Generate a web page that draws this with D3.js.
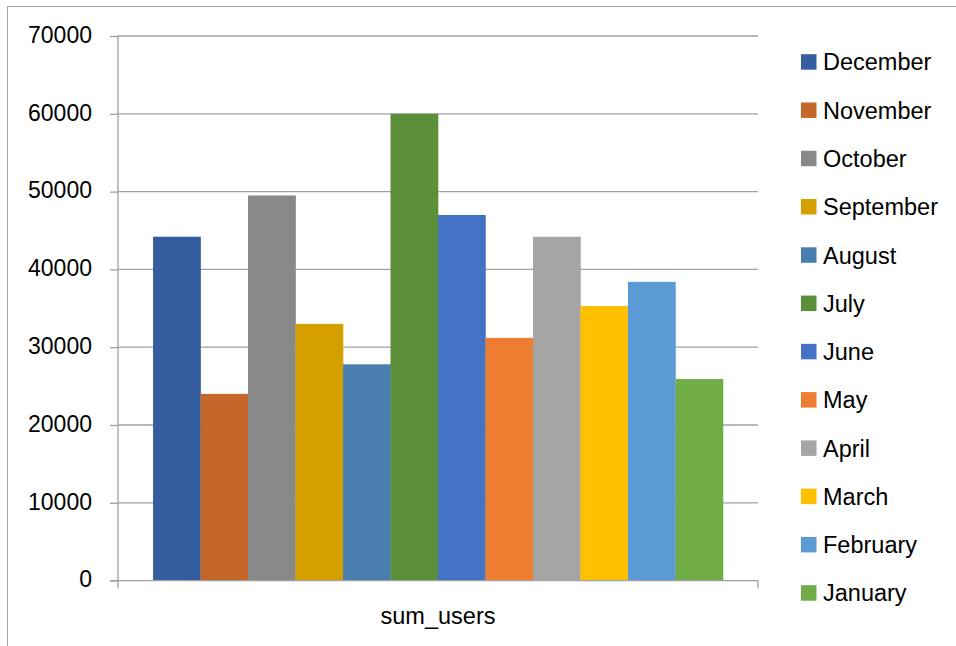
<!DOCTYPE html>
<html>
<head>
<meta charset="utf-8">
<script src="https://cdn.jsdelivr.net/npm/d3@7"></script>
<style>
  html, body { margin: 0; padding: 0; background: #fff; }
  svg { display: block; font-family: "Liberation Sans", Arial, sans-serif; }
</style>
</head>
<body>
<svg id="chart" width="956" height="646"></svg>
<script>
// Monthly user totals, one bar per month within the single "sum_users" group
const category = ["sum_users"];
const months = ["December", "November", "October", "September", "August", "July",
                "June", "May", "April", "March", "February", "January"];
const sumUsers = [44200, 24000, 49500, 33000, 27800, 60000,
                  47000, 31200, 44200, 35300, 38400, 25900];
const monthColors = ["#355EA0", "#C5672A", "#898989", "#D4A000", "#4A7EAF", "#5B8F3A",
                     "#4472C4", "#ED7D31", "#A5A5A5", "#FFC000", "#5B9BD5", "#70AD47"];
const yTicks = [0, 10000, 20000, 30000, 40000, 50000, 60000, 70000];

const svg = d3.select("#chart");
const plot = { left: 118, right: 758, top: 36, bottom: 580.6 };

// chart frame
svg.append("rect")
  .attr("x", 7.5).attr("y", 6.5)
  .attr("width", 1000).attr("height", 700)
  .attr("fill", "none").attr("stroke", "#a6a6a6").attr("stroke-width", 1);

const y = d3.scaleLinear().domain([0, 70000]).range([plot.bottom, plot.top]);

const x0 = d3.scaleBand().domain(category)
  .range([plot.left, plot.right])
  .paddingInner(0).paddingOuter(0.0615);
const x1 = d3.scaleBand().domain(months)
  .range([0, x0.bandwidth()]).padding(0);
const color = d3.scaleOrdinal().domain(months).range(monthColors);

// gridlines
svg.append("g")
  .selectAll("line")
  .data(yTicks.filter(d => d > 0))
  .join("line")
  .attr("x1", plot.left).attr("x2", plot.right)
  .attr("y1", d => y(d)).attr("y2", d => y(d))
  .attr("stroke", "#a0a0a0").attr("stroke-width", 1.3);

// bars
svg.append("g")
  .attr("transform", `translate(${x0(category[0])},0)`)
  .selectAll("rect")
  .data(months.map((m, i) => ({ month: m, value: sumUsers[i] })))
  .join("rect")
  .attr("x", d => x1(d.month))
  .attr("width", x1.bandwidth() + 0.3)
  .attr("y", d => y(d.value))
  .attr("height", d => y(0) - y(d.value))
  .attr("fill", d => color(d.month));

// y axis
const yAxis = svg.append("g")
  .attr("transform", `translate(${plot.left},0)`)
  .call(d3.axisLeft(y).tickValues(yTicks).tickSize(8).tickPadding(18).tickFormat(d3.format("d")));
yAxis.select(".domain").attr("stroke", "#a0a0a0").attr("stroke-width", 1.3)
  .attr("d", `M0,${plot.top}V${plot.bottom}`);
yAxis.selectAll(".tick line").attr("stroke", "#a0a0a0").attr("stroke-width", 1.3);
yAxis.selectAll(".tick text")
  .attr("font-size", 23).attr("fill", "#000")
  .attr("font-family", "'Liberation Sans', Arial, sans-serif")
  .attr("dy", "0.27em");

// x axis (category axis with boundary ticks)
const xAxis = svg.append("g")
  .attr("transform", `translate(0,${plot.bottom})`);
xAxis.append("line")
  .attr("x1", plot.left - 8).attr("x2", plot.right)
  .attr("stroke", "#a0a0a0").attr("stroke-width", 1.3);
xAxis.selectAll("line.tick")
  .data([plot.left, plot.right])
  .join("line").attr("class", "tick")
  .attr("x1", d => d).attr("x2", d => d)
  .attr("y1", 0).attr("y2", 8)
  .attr("stroke", "#a0a0a0").attr("stroke-width", 1.3);
xAxis.selectAll("text")
  .data(category)
  .join("text")
  .attr("x", d => x0(d) + x0.bandwidth() / 2)
  .attr("y", 43)
  .attr("text-anchor", "middle")
  .attr("font-size", 23.5).attr("fill", "#000")
  .text(d => d);

// legend
const legend = svg.append("g");
const rowY = d3.scalePoint().domain(months).range([62, 593]);
const item = legend.selectAll("g")
  .data(months)
  .join("g")
  .attr("transform", d => `translate(801,${rowY(d)})`);
item.append("rect")
  .attr("x", 0).attr("y", -7.8)
  .attr("width", 15.5).attr("height", 15.5)
  .attr("fill", d => color(d));
item.append("text")
  .attr("x", 22).attr("y", 0).attr("dy", "0.36em")
  .attr("font-size", 23.5).attr("fill", "#000")
  .text(d => d);
</script>
</body>
</html>
